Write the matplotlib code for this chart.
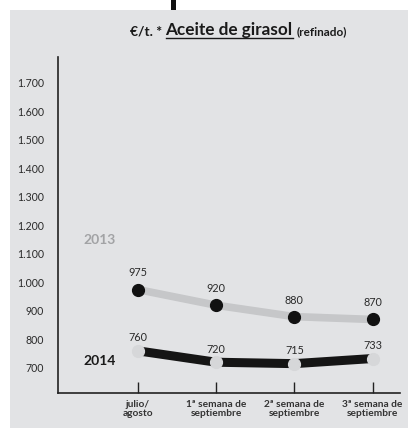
import matplotlib
matplotlib.use('Agg')
import matplotlib.pyplot as plt
from matplotlib.patches import Rectangle
from matplotlib.lines import Line2D

plt.rcParams['font.family'] = ['Lato', 'DejaVu Sans']

# data (€/t)
periodos = ['julio/\nagosto', '1ª semana de\nseptiembre',
            '2ª semana de\nseptiembre', '3ª semana de\nseptiembre']
precios_2013 = [975, 920, 880, 870]
precios_2014 = [760, 720, 715, 733]
yticks = [700, 800, 900, 1000, 1100, 1200, 1300, 1400, 1500, 1600, 1700]
ytick_labels = ['700', '800', '900', '1.000', '1.100', '1.200', '1.300',
                '1.400', '1.500', '1.600', '1.700']

W, H = 408, 428
fig = plt.figure(figsize=(W / 100, H / 100), dpi=100, facecolor='white')

# grey panel
fig.patches.append(Rectangle((10 / W, 0), 1 - 10 / W, (H - 10) / H,
                             transform=fig.transFigure, facecolor='#e2e3e5',
                             edgecolor='none', zorder=-2))
# remnant of the heading above the panel
fig.patches.append(Rectangle((171 / W, (H - 10) / H), 5 / W, 10 / H,
                             transform=fig.transFigure, facecolor='#111111',
                             edgecolor='none', zorder=-1))

ax = fig.add_axes([58 / W, (H - 393) / H, (400 - 58) / W, (393 - 57) / H])
ax.set_facecolor('none')

x = list(range(len(periodos)))

# 2013 series: light grey line, black dots
ax.plot(x, precios_2013, color='#c6c7c9', lw=5.5, solid_capstyle='round',
        solid_joinstyle='round', zorder=2)
ax.plot(x, precios_2013, 'o', color='#111111', ms=8.5, zorder=3)
for xi, v in zip(x, precios_2013):
    ax.annotate(str(v), (xi, v), xytext=(0, 8), textcoords='offset points',
                ha='center', va='bottom', fontsize=7.8, color='#2a2a2a')

# 2014 series: black line, light grey dots
ax.plot(x, precios_2014, color='#151515', lw=6.5, solid_capstyle='butt',
        solid_joinstyle='round', zorder=2)
ax.plot(x, precios_2014, 'o', color='#d6d7d9', ms=8.5, zorder=3)
for xi, v in zip(x, precios_2014):
    ax.annotate(str(v), (xi, v), xytext=(0, 5.5), textcoords='offset points',
                ha='center', va='bottom', fontsize=7.8, color='#2a2a2a')

ax.text(0.073, 0.455, '2013', transform=ax.transAxes, fontsize=10,
        fontweight='bold', color='#a2a3a5', va='center', ha='left')
ax.text(0.073, 0.095, '2014', transform=ax.transAxes, fontsize=10,
        fontweight='bold', color='#1a1a1a', va='center', ha='left')

ax.set_xlim(-1.02, 3.35)
ax.set_ylim(612, 1791)

ax.set_yticks(yticks)
ax.set_yticklabels(ytick_labels)
ax.set_xticks(x)
ax.set_xticklabels(periodos, fontsize=7.3, fontweight='bold', color='#333333',
                   linespacing=1.0)
ax.tick_params(axis='y', length=0, pad=10, labelsize=7.6, labelcolor='#2a2a2a')
ax.tick_params(axis='x', direction='in', length=8, width=1, color='#222222',
               pad=5)

for side in ['top', 'right']:
    ax.spines[side].set_visible(False)
for side in ['left', 'bottom']:
    ax.spines[side].set_linewidth(1.2)
    ax.spines[side].set_color('#222222')

# title: three pieces in a row, the middle one underlined
fig.canvas.draw()
r = fig.canvas.get_renderer()
ty = (H - 35) / H
t1 = fig.text(130 / W, ty, '€/t. * ', fontsize=10, fontweight='bold',
              color='#1a1a1a', va='baseline')
bb1 = t1.get_window_extent(r)
t2 = fig.text(bb1.x1 / W, ty, 'Aceite de girasol', fontsize=12.3,
              fontweight='bold', color='#1a1a1a', va='baseline')
bb2 = t2.get_window_extent(r)
t3 = fig.text(bb2.x1 / W + 4 / W, ty, '(refinado)', fontsize=8.5,
              fontweight='bold', color='#1a1a1a', va='baseline')
fig.add_artist(Line2D([bb2.x0 / W, bb2.x1 / W], [(H - 37.5) / H] * 2,
                      transform=fig.transFigure, color='#1a1a1a', lw=1.0))

fig.savefig('out.png', dpi=100, facecolor='white')
